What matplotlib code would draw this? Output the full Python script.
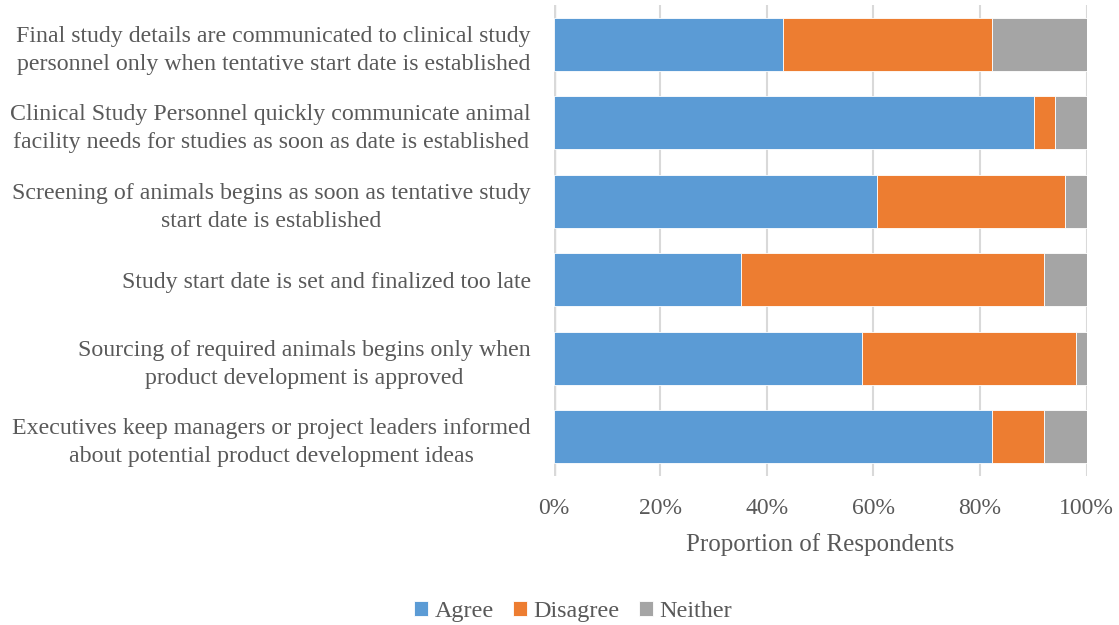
import matplotlib
matplotlib.use("Agg")
import matplotlib.pyplot as plt
from matplotlib.ticker import PercentFormatter

categories = [
    "Final study details are communicated to clinical study\npersonnel only when tentative start date is established",
    "Clinical Study Personnel quickly communicate animal\nfacility needs for studies as soon as date is established",
    "Screening of animals begins as soon as tentative study\nstart date is established",
    "Study start date is set and finalized too late",
    "Sourcing of required animals begins only when\nproduct development is approved",
    "Executives keep managers or project leaders informed\nabout potential product development ideas",
]
agree = [43.0, 90.2, 60.7, 35.1, 57.9, 82.3]
disagree = [39.3, 3.9, 35.3, 57.0, 40.1, 9.8]
neither = [17.7, 5.9, 4.0, 7.9, 2.0, 7.9]
series_names = ["Agree", "Disagree", "Neither"]
colors = ["#5B9BD5", "#ED7D31", "#A5A5A5"]
xticks = [0, 20, 40, 60, 80, 100]

plt.rcParams['font.family'] = ['Liberation Serif', 'DejaVu Serif']

fig = plt.figure(figsize=(11.19, 6.25), dpi=100)
ax = fig.add_axes([0.495, 0.2384, 0.476, 0.754])

ypos = list(range(len(categories)))[::-1]
left = [0.0] * len(categories)
for name, vals, col in zip(series_names, [agree, disagree, neither], colors):
    ax.barh(ypos, vals, left=left, height=0.675, color=col, label=name,
            edgecolor="white", linewidth=0.6, zorder=3)
    left = [l + v for l, v in zip(left, vals)]

ax.set_xlim(0, 100)
ax.set_ylim(-0.5, len(categories) - 0.5)
ax.set_xticks(xticks)
ax.xaxis.set_major_formatter(PercentFormatter(decimals=0))
ax.set_yticks(ypos)
ax.set_yticklabels(categories, fontsize=17.2, color="#595959",
                   multialignment="center", linespacing=1.45)
ax.tick_params(axis='x', labelsize=17, labelcolor="#595959", length=0, pad=16)
ax.tick_params(axis='y', length=0, pad=16.5)
ax.grid(axis='x', color="#D9D9D9", linewidth=1.5, zorder=0)
for s in ax.spines.values():
    s.set_visible(False)
ax.axvline(0, color="#D9D9D9", linewidth=2.5, zorder=1)

ax.set_xlabel("Proportion of Respondents", fontsize=18, color="#595959", labelpad=10)

fig.legend(loc="lower center", bbox_to_anchor=(0.512, -0.03), ncol=3, frameon=False,
           fontsize=17.4, handlelength=0.6, handleheight=0.6, handletextpad=0.25,
           columnspacing=0.8, labelcolor="#595959")

fig.savefig("out.png", dpi=100)
